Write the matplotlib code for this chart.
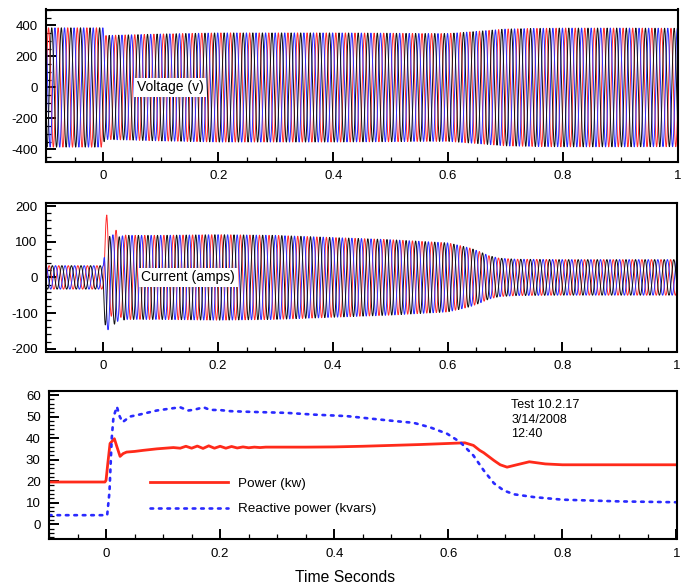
import numpy as np
import matplotlib
matplotlib.use("Agg")
import matplotlib.pyplot as plt
from matplotlib.ticker import MultipleLocator

plt.rcParams['font.family'] = ['Liberation Sans', 'DejaVu Sans']
plt.rcParams['axes.unicode_minus'] = False

# ---------------- data ----------------
freq_hz = 60.0

# voltage envelope (peak volts) at knot times
v_env_t = [-0.1, 0.0, 0.002, 0.05, 0.1, 0.2, 0.3, 0.4, 0.5, 0.55, 0.6, 0.65, 0.7, 0.75, 0.8, 0.9, 1.0]
v_env_a = [385, 385, 335, 340, 345, 352, 352, 352, 350, 348, 348, 362, 377, 381, 383, 383, 382]

# current envelope (peak amps) at knot times
i_env_t = [-0.1, 0.0, 0.002, 0.006, 0.015, 0.03, 0.1, 0.2, 0.3, 0.4, 0.5, 0.6, 0.62, 0.64,
           0.655, 0.672, 0.69, 0.72, 0.8, 1.0]
i_env_a = [33, 33, 90, 140, 125, 118, 118, 120, 118, 112, 106, 97, 90, 82, 73, 61, 54, 51, 50, 50]

# decaying offsets of the three current phases just after t = 0
i_off_t = [-0.1, 0.0, 0.003, 0.015, 0.04, 1.0]
i_off_red = [0, 0, 45, 15, 0, 0]
i_off_blue = [0, 0, -15, -5, 0, 0]
i_off_black = [0, 0, -30, -10, 0, 0]

# power (kw)
p_t = [-0.1, -0.002, 0.0, 0.003, 0.007, 0.0146, 0.019, 0.0246, 0.03, 0.036, 0.05, 0.065, 0.089,
       0.118, 0.13, 0.14, 0.15, 0.16, 0.17, 0.18, 0.19, 0.2, 0.21, 0.22, 0.23, 0.24, 0.25, 0.26,
       0.27, 0.28, 0.3, 0.35, 0.4, 0.45, 0.5, 0.55, 0.6, 0.629, 0.644, 0.655, 0.662, 0.68, 0.691,
       0.703, 0.72, 0.742, 0.77, 0.8, 0.9, 1.0]
p_v = [19.6, 19.6, 20.4, 28, 37.5, 39.7, 36, 31.5, 32.8, 33.5, 33.8, 34.3, 35.0,
       35.6, 35.3, 36.2, 35.3, 36.3, 35.2, 36.4, 35.3, 36.2, 35.3, 36.1, 35.4, 35.9, 35.5, 35.8,
       35.6, 35.8, 35.8, 35.8, 35.9, 36.2, 36.6, 37.0, 37.5, 37.8, 36.6, 34.3, 33.2, 29.6, 27.6,
       26.5, 27.6, 29.0, 28.0, 27.6, 27.6, 27.6]

# reactive power (kvars)
q_t = [-0.1, 0.002, 0.006, 0.01, 0.013, 0.019, 0.024, 0.029, 0.042, 0.06, 0.089, 0.11, 0.13,
       0.144, 0.155, 0.171, 0.182, 0.2, 0.218, 0.25, 0.317, 0.364, 0.422, 0.48, 0.51, 0.539,
       0.568, 0.598, 0.621, 0.644, 0.662, 0.68, 0.697, 0.715, 0.75, 0.8, 0.9, 1.0]
q_v = [4.2, 4.2, 15, 40, 49.7, 54.6, 50, 47.4, 50, 51, 52.8, 53.6, 54.3,
       52.8, 53.2, 54.3, 53.1, 53.0, 52.5, 52.2, 51.7, 50.9, 50.2, 48.6, 47.8, 47.1,
       45, 42, 38.1, 31.9, 25, 19, 15.7, 13.9, 12.6, 11.4, 10.6, 10.2]

x_ticks = [0, 0.2, 0.4, 0.6, 0.8, 1]
x_tick_labels = ['0', '0.2', '0.4', '0.6', '0.8', '1']
note_text = "Test 10.2.17\n3/14/2008\n12:40"

# ---------------- figure ----------------
W, H = 686, 587
fig = plt.figure(figsize=(W / 100, H / 100), dpi=100)

def add_ax(left, top, right, bottom):
    return fig.add_axes([left / W, 1 - bottom / H, (right - left) / W, (bottom - top) / H])

ax1 = add_ax(46, 9.5, 678, 162)
ax2 = add_ax(46, 203.3, 677, 351.5)
ax3 = add_ax(49, 390.7, 676.5, 539.3)

t = np.linspace(-0.1, 1.0, 22000)
w = 2 * np.pi * freq_hz
ph0 = np.pi / 2 - w * 0.0055
phases = [ph0, ph0 + 2 * np.pi / 3, ph0 - 2 * np.pi / 3]
cols = ['#ff2a2a', '#2a2aff', '#111111']

venv = np.interp(t, v_env_t, v_env_a)
ienv = np.interp(t, i_env_t, i_env_a)
offs = [np.interp(t, i_off_t, i_off_red), np.interp(t, i_off_t, i_off_blue),
        np.interp(t, i_off_t, i_off_black)]

for ph, c in zip(phases, cols):
    ax1.plot(t, venv * np.sin(w * t + ph + 0.4), color=c, lw=0.7)
for ph, c, o in zip(phases, cols, offs):
    ax2.plot(t, ienv * np.sin(w * t + ph) + o, color=c, lw=0.7)

ax3.plot(p_t, p_v, color='#ff2a1a', lw=2.0, label='Power (kw)')
ax3.plot(q_t, q_v, color='#2a2aff', lw=1.9, linestyle=(0, (1, 2.2)),
         dash_capstyle='round', label='Reactive power (kvars)')

ax1.set_ylim(-481, 503)
ax2.set_ylim(-208, 208)
ax3.set_ylim(-7, 62)

ax1.yaxis.set_major_locator(MultipleLocator(200))
ax1.yaxis.set_minor_locator(MultipleLocator(50))
ax2.yaxis.set_major_locator(MultipleLocator(100))
ax2.yaxis.set_minor_locator(MultipleLocator(20))
ax3.yaxis.set_major_locator(MultipleLocator(10))
ax3.yaxis.set_minor_locator(MultipleLocator(2))

for ax in (ax1, ax2, ax3):
    ax.set_xlim(-0.1, 1.0)
    ax.set_xticks(x_ticks)
    ax.set_xticklabels(x_tick_labels)
    ax.xaxis.set_minor_locator(MultipleLocator(0.05))
    ax.tick_params(which='both', direction='in', top=False, right=False, labelsize=9.5)
    ax.tick_params(which='major', length=7, width=1.4, pad=6)
    ax.tick_params(which='minor', length=3.8, width=0.9)
    for s in ax.spines.values():
        s.set_linewidth(1.5)

ax1.text(0.0577, 0, 'Voltage (v)', fontsize=10, ha='left', va='center', zorder=5,
         bbox=dict(facecolor='white', edgecolor='none', pad=2))
ax2.text(0.0664, 0, 'Current (amps)', fontsize=10, ha='left', va='center', zorder=5,
         bbox=dict(facecolor='white', edgecolor='none', pad=2))

ax3.text(0.737, 0.944, note_text, transform=ax3.transAxes, fontsize=9, ha='left', va='top',
         linespacing=1.3)

ax3.legend(loc='center left', bbox_to_anchor=(0.161, 0.288), frameon=False, fontsize=9.7,
           handlelength=5.8, handletextpad=0.7, labelspacing=0.95, borderpad=0,
           borderaxespad=0)

fig.text(345 / W, 1 - 577 / H, 'Time Seconds', fontsize=11.3, ha='center', va='center')

fig.savefig('out.png', dpi=100)
